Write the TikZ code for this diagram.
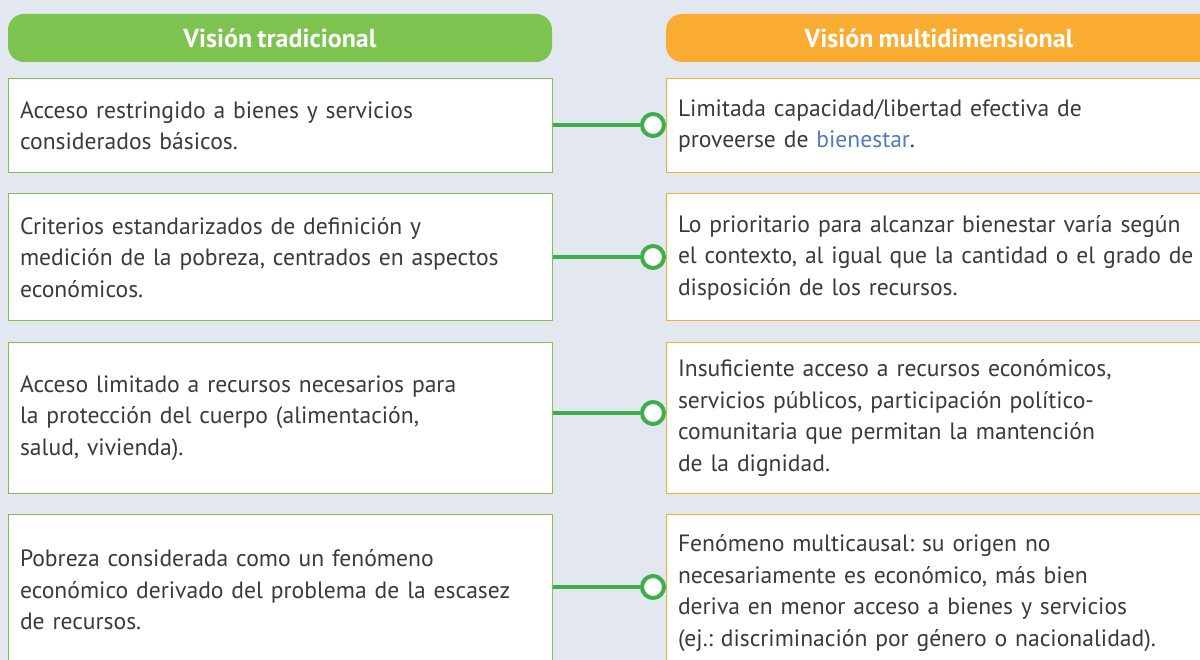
\documentclass[tikz,border=0pt]{standalone}
\usepackage{fontspec}
\setmainfont[WordSpace=0.8]{PT Sans}
\frenchspacing
\definecolor{bgc}{HTML}{E3E8F0}
\definecolor{hgreen}{HTML}{7DC34F}
\definecolor{horange}{HTML}{FBAD33}
\definecolor{cgreen}{HTML}{3DAE49}
\definecolor{txt}{HTML}{3A3A3A}
\definecolor{link}{HTML}{4C7CC0}
\tikzset{
  header/.style={rounded corners=16pt, minimum height=48pt, inner sep=0pt,
    font=\fontsize{26}{28}\selectfont\bfseries, text=white},
  box/.style={draw, line width=1pt, fill=white, inner xsep=12pt, inner ysep=0pt,
    align=left, text=txt, font=\fontsize{23.6}{31.5}\selectfont},
  lbox/.style={box, draw=hgreen, minimum width=544pt, text width=520pt},
  rbox/.style={box, draw=horange, minimum width=590pt, text width=566pt},
  ring/.style={circle, draw=cgreen, line width=4pt, fill=white, minimum size=22pt, inner sep=0pt},
  conn/.style={draw=cgreen, line width=4.5pt},
}
\begin{document}
\begin{tikzpicture}[x=1pt,y=-1pt]
\fill[bgc] (0,0) rectangle (1200,660);
\useasboundingbox (0,0) rectangle (1200,660);
\begin{scope}
\clip (0,0) rectangle (1200,660);
\node[header, fill=hgreen, minimum width=544pt] (hl) at (280,38) {Visión tradicional};
\node[header, fill=horange, minimum width=590pt] (hr) at (961,38) {\hspace*{-44pt}Visión multidimensional};

\node[lbox, minimum height=94pt] (l1) at (280,126) {Acceso restringido a bienes y servicios\\considerados básicos.};
\node[lbox, minimum height=127pt] (l2) at (280,257.5) {Criterios estandarizados de definición y\\medición de la pobreza, centrados en aspectos\\económicos.};
\node[lbox, minimum height=150pt] (l3) at (280,418) {Acceso limitado a recursos necesarios para\\la protección del cuerpo (alimentación,\\salud, vivienda).};
\node[lbox, minimum height=152pt] (l4) at (280,590) {Pobreza considerada como un fenómeno\\económico derivado del problema de la escasez\\de recursos.};

\node[rbox, minimum height=94pt] (r1) at (961,126) {Limitada capacidad/libertad efectiva de\\proveerse de \textcolor{link}{bienestar}.};
\node[rbox, minimum height=127pt] (r2) at (961,257.5) {Lo prioritario para alcanzar bienestar varía según\\el contexto, al igual que la cantidad o el grado de\\disposición de los recursos.};
\node[rbox, minimum height=150pt] (r3) at (961,418) {Insuficiente acceso a recursos económicos,\\servicios públicos, participación político-\\comunitaria que permitan la mantención\\de la dignidad.};
\node[rbox, minimum height=158pt] (r4) at (961,593) {Fenómeno multicausal: su origen no\\necesariamente es económico, más bien\\deriva en menor acceso a bienes y servicios\\(ej.: discriminación por género o nacionalidad).};
\end{scope}

\node[ring] (c1) at (653,125) {};
\node[ring] (c2) at (653,257) {};
\node[ring] (c3) at (653,413) {};
\node[ring] (c4) at (653,587) {};
\draw[conn] (l1.east |- c1) -- (c1.west);
\draw[conn] (l2.east |- c2) -- (c2.west);
\draw[conn] (l3.east |- c3) -- (c3.west);
\draw[conn] (l4.east |- c4) -- (c4.west);
\end{tikzpicture}
\end{document}
